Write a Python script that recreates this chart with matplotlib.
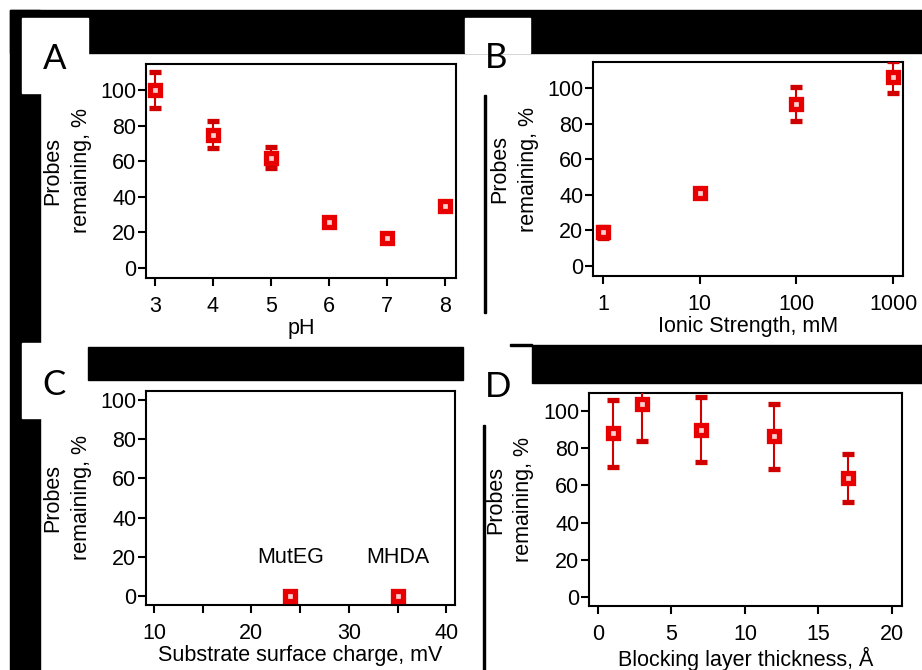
import numpy as np
import matplotlib
matplotlib.use('Agg')
import matplotlib.pyplot as plt
from matplotlib.patches import Rectangle

# panel A: pH
ph = [3, 4, 5, 6, 7, 8]
ph_val = [100, 75, 62, 26, 17, 35]
ph_err = [10, 7.5, 6, 2, 2, 2]

# panel B: ionic strength
ionic = [1, 10, 100, 1000]
ionic_val = [19, 41, 91, 106]
ionic_err = [3, 2, 9.5, 9]

# panel C: surface charge
charge = [24, 35]
charge_val = [0, 0]
charge_names = ['MutEG', 'MHDA']

# panel D: blocking layer
thick = [1, 3, 7, 12, 17]
thick_val = [88, 104, 90, 86.5, 64]
thick_err = [18, 20, 17.5, 17.5, 12.7]

W, H = 922, 670
plt.rcParams['font.family'] = ['Liberation Sans', 'DejaVu Sans']
fig = plt.figure(figsize=(W / 100, H / 100), dpi=100)


def px_axes(l, t, r, b):
    return fig.add_axes([l / W, 1 - b / H, (r - l) / W, (b - t) / H])


def px_rect(x0, y0, x1, y1, color='black'):
    fig.patches.append(Rectangle((x0 / W, 1 - y1 / H), (x1 - x0) / W, (y1 - y0) / H,
                                 transform=fig.transFigure, color=color, zorder=0))


# black bars of the scanned figure
px_rect(10, 10, 922, 53)
px_rect(10, 10, 40, 670)
px_rect(22, 18, 88, 93, 'white')
px_rect(465, 18, 530, 53, 'white')
px_rect(22, 343, 88, 418, 'white')
px_rect(88, 347, 463, 380)
px_rect(532, 345, 922, 383)
px_rect(510, 344, 532, 346)
px_rect(484, 95, 486, 313)
px_rect(483, 425, 484.5, 670)

red = '#e80000'
mk = dict(fmt='s', color=red, ecolor='#d00000', markersize=7, markeredgewidth=3.8,
          markerfacecolor='#ffd0d0', elinewidth=1.5, capsize=4, capthick=1.5, zorder=3)


def style(ax):
    for s in ax.spines.values():
        s.set_linewidth(1.5)
    ax.tick_params(axis='both', direction='out', length=6, width=1.5, labelsize=15.5)
    ax.tick_params(axis='y', pad=1)
    ax.tick_params(axis='x', pad=7)
    ax.set_ylabel('Probes\nremaining, %', fontsize=15.5, linespacing=1.45)
    ax.yaxis.set_label_coords(-0.175, 0.5)


axA = px_axes(146, 64, 456, 278)
axA.errorbar(ph, ph_val, yerr=ph_err, **mk)
axA.set_xlim(2.845, 8.19)
axA.set_ylim(-5.6, 114.6)
axA.set_xticks(ph)
axA.set_yticks(range(0, 101, 20))
style(axA)
axA.set_xlabel('pH', fontsize=15.5, labelpad=1)

axB = px_axes(593, 62, 903, 276)
axB.errorbar(ionic, ionic_val, yerr=ionic_err, **mk)
axB.set_xscale('log')
axB.set_xlim(0.789, 1268)
axB.set_ylim(-5.6, 114.6)
axB.set_xticks(ionic)
axB.set_xticklabels([str(v) for v in ionic])
axB.xaxis.set_minor_locator(matplotlib.ticker.NullLocator())
axB.set_yticks(range(0, 101, 20))
style(axB)
axB.set_xlabel('Ionic Strength, mM', fontsize=15.5, labelpad=1)

axC = px_axes(146, 391, 455, 605)
axC.errorbar(charge, charge_val, yerr=[0, 0], **mk)
for x, name in zip(charge, charge_names):
    axC.text(x, 19.4, name, ha='center', va='center', fontsize=15.5)
axC.set_xlim(9.18, 40.9)
axC.set_ylim(-4.6, 104.6)
axC.set_xticks([10, 20, 30, 40])
axC.set_xticks([15, 25, 35], minor=True)
axC.set_yticks(range(0, 101, 20))
style(axC)
axC.tick_params(axis='x', which='minor', direction='out', length=6, width=1.5)
axC.set_xlabel('Substrate surface charge, mV', fontsize=15.5, labelpad=1)

axD = px_axes(589, 393, 902, 606)
axD.errorbar(thick, thick_val, yerr=thick_err, **mk)
axD.set_xlim(-0.61, 20.68)
axD.set_ylim(-4.8, 109.7)
axD.set_xticks([0, 5, 10, 15, 20])
axD.set_yticks(range(0, 101, 20))
style(axD)
axD.set_xlabel('Blocking layer thickness, Å', fontsize=15.5, labelpad=1)

# panel letters
for x, y, letter in [(55, 59, 'A'), (496, 58, 'B'), (54, 385, 'C'), (498, 387, 'D')]:
    fig.text(x / W, 1 - y / H, letter, fontsize=25, family='Lato',
             ha='center', va='center')

fig.savefig('out.png', dpi=100)
